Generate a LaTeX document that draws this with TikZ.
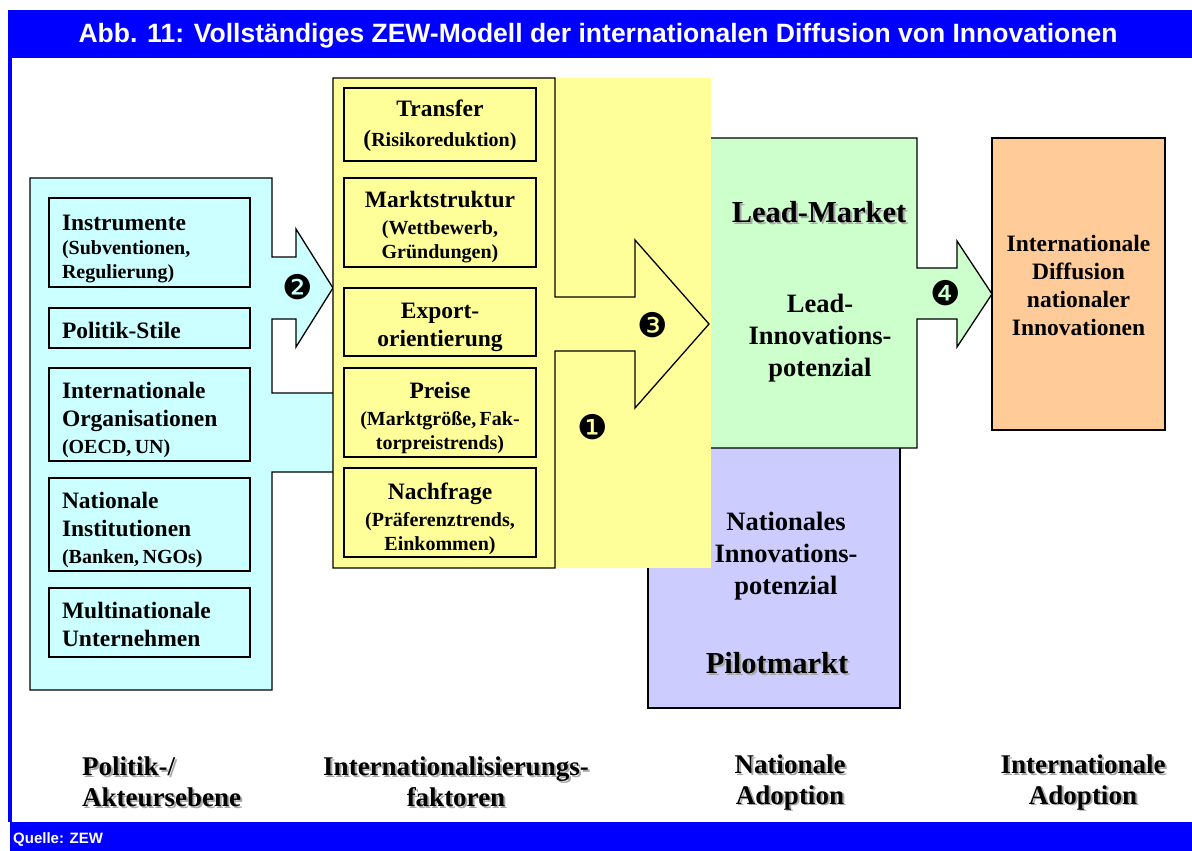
\documentclass[tikz,border=0pt]{standalone}
\usepackage{fontspec}
\setmainfont{Liberation Serif}
\newfontfamily\sansf{Liberation Sans}
\newfontfamily\dingf{DejaVu Sans}
\definecolor{zblue}{HTML}{0000FF}
\definecolor{zcyan}{HTML}{CCFFFF}
\definecolor{zyellow}{HTML}{FFFF99}
\definecolor{zgreen}{HTML}{CCFFCC}
\definecolor{zpurple}{HTML}{CCCCFF}
\definecolor{zorange}{HTML}{FFCC99}
\definecolor{zshadow}{HTML}{A8A8A8}
\newcommand\hdf{\fontsize{23.5}{28}\selectfont\bfseries}
\newcommand\sbf{\fontsize{20}{24}\selectfont\bfseries}
\newcommand\gapsub{\vspace{3pt}}
\begin{document}
\begin{tikzpicture}[x=1pt,y=-1pt,
  panel/.style={draw=black, line width=1.3pt},
  ibox/.style={draw=black, line width=1.8pt, inner sep=0pt, rectangle},
  lbox/.style={ibox, fill=zcyan, minimum width=201pt},
  ybox/.style={ibox, fill=zyellow, minimum width=192pt},
  ltxt/.style={text width=175pt, align=left, inner sep=0pt, anchor=base},
  ytxt/.style={text width=186pt, align=center, inner sep=0pt, anchor=base},
  num/.style={font=\dingf\fontsize{34}{34}\selectfont, inner sep=0pt},
  bigt/.style={font=\fontsize{30.5}{34}\selectfont\bfseries, inner sep=0pt, anchor=base},
  midt/.style={font=\fontsize{26.5}{32}\selectfont\bfseries, inner sep=0pt, align=center},
  ort/.style={font=\fontsize{23.5}{28}\selectfont\bfseries, inner sep=0pt, align=center},
  bott/.style={font=\fontsize{27}{31}\selectfont\bfseries, inner sep=0pt},
  shd/.style={text=zshadow}
]
\useasboundingbox (0,0) rectangle (1192,851);
% blue frame
\fill[zblue] (8,10) rectangle (1192,58);
\fill[zblue] (8,58) rectangle (12,822);
\fill[zblue] (10,822) rectangle (1192,851);
\node[font=\sansf\bfseries\fontsize{26.5}{28}\selectfont, text=white, anchor=base, inner sep=0pt] (title) at (598,43)
  {Abb. 11: Vollständiges ZEW-Modell der internationalen Diffusion von Innovationen};
\node[font=\sansf\bfseries\fontsize{15}{16}\selectfont, text=white, anchor=base west, inner sep=0pt] (quelle) at (13,843) {Quelle: ZEW};

% purple box
\draw[panel, fill=zpurple] (648,430) rectangle (900,708);
% green box with arrow 4
\draw[panel, fill=zgreen] (650,138) -- (917,138) -- (917,268) -- (957,268) -- (957,241) -- (992,294)
  -- (957,347) -- (957,319) -- (917,319) -- (917,448) -- (650,448) -- cycle;
% cyan panel with arrow 2
\draw[panel, fill=zcyan] (30,178) -- (272,178) -- (272,257) -- (296,257) -- (296,229) -- (333,288)
  -- (296,347) -- (296,319) -- (272,319) -- (272,393) -- (345,393) -- (345,472) -- (272,472)
  -- (272,690) -- (30,690) -- cycle;
% yellow panel with arrow 3
\fill[zyellow] (333,78) rectangle (711,568);
\draw[panel, fill=zyellow] (333,78) -- (555,78) -- (555,297) -- (635,297) -- (635,240) -- (709,324)
  -- (635,408) -- (635,351) -- (555,351) -- (555,568) -- (333,568) -- cycle;
% orange box
\draw[panel, fill=zorange] (992,138) rectangle (1165,430);

% left inner boxes
\node[lbox, minimum height=89pt] (ins) at (149.5,242.5) {};
\node[lbox, minimum height=40pt] (pol) at (149.5,328) {};
\node[lbox, minimum height=93pt] (org) at (149.5,414.5) {};
\node[lbox, minimum height=93pt] (nat) at (149.5,524.5) {};
\node[lbox, minimum height=69pt] (mul) at (149.5,622.5) {};
\node[ltxt] (insT) at (149.5,230) {{\hdf Instrumente\par}{\sbf (Subventionen,\par Regulierung)\par}};
\node[ltxt] (polT) at (149.5,338) {{\hdf Politik-Stile\par}};
\node[ltxt] (orgT) at (149.5,398) {{\hdf Internationale\par Organisationen\par}\gapsub{\sbf (OECD, UN)\par}};
\node[ltxt] (natT) at (149.5,508) {{\hdf Nationale\par Institutionen\par}\gapsub{\sbf (Banken, NGOs)\par}};
\node[ltxt] (mulT) at (149.5,618) {{\hdf Multinationale\par Unternehmen\par}};

% yellow inner boxes
\node[ybox, minimum height=73pt] (tra) at (440,124.5) {};
\node[ybox, minimum height=89pt] (mar) at (440,222.5) {};
\node[ybox, minimum height=68pt] (exp) at (440,322) {};
\node[ybox, minimum height=89pt] (pre) at (440,412.5) {};
\node[ybox, minimum height=89pt] (nac) at (440,512.5) {};
\node[ytxt] (traT) at (440,117) {{\hdf Transfer\par}\vspace{6pt}{\hdf (}{\sbf Risikoreduktion)\par}};
\node[ytxt] (marT) at (440,207) {{\hdf Marktstruktur\par}\gapsub{\sbf (Wettbewerb,\par Gründungen)\par}};
\node[ytxt] (expT) at (440,318) {{\hdf Export-\par orientierung\par}};
\node[ytxt] (preT) at (440,398) {{\hdf Preise\par}\gapsub{\sbf (Marktgröße, Fak-\par torpreistrends)\par}};
\node[ytxt] (nacT) at (440,499) {{\hdf Nachfrage\par}\gapsub{\sbf (Präferenztrends,\par Einkommen)\par}};

% numbers
\node[num] (n2) at (298,287) {❷};
\node[num] (n3) at (653,325) {❸};
\node[num] (n1) at (593,427) {❶};
\node[num] (n4) at (946,293) {❹};

% green texts
\node[bigt, shd] (lmS) at (821,224) {Lead-Market};
\node[bigt] (lm) at (819,222) {Lead-Market};
\node[midt] (lip) at (820,338.5) {Lead-\\Innovations-\\potenzial};
% purple texts
\node[midt] (nip) at (786,556.5) {Nationales\\Innovations-\\potenzial};
\node[bigt, shd] (pmS) at (779,675) {Pilotmarkt};
\node[bigt] (pm) at (777,673) {Pilotmarkt};
% orange text
\node[ort] (idn) at (1078.5,285) {Internationale\\Diffusion\\nationaler\\Innovationen};

% bottom labels
\node[bott, shd, align=left, anchor=west] (l1S) at (84,784) {Politik-/\\Akteursebene};
\node[bott, align=left, anchor=west] (l1) at (82,782) {Politik-/\\Akteursebene};
\node[bott, shd, align=center] (l2S) at (458,784) {Internationalisierungs-\\faktoren};
\node[bott, align=center] (l2) at (456,782) {Internationalisierungs-\\faktoren};
\node[bott, shd, align=center] (l3S) at (792,784) {Nationale\\Adoption};
\node[bott, align=center] (l3) at (790,782) {Nationale\\Adoption};
\node[bott, shd, align=center] (l4S) at (1085,784) {Internationale\\Adoption};
\node[bott, align=center] (l4) at (1083,782) {Internationale\\Adoption};
\end{tikzpicture}
\end{document}
